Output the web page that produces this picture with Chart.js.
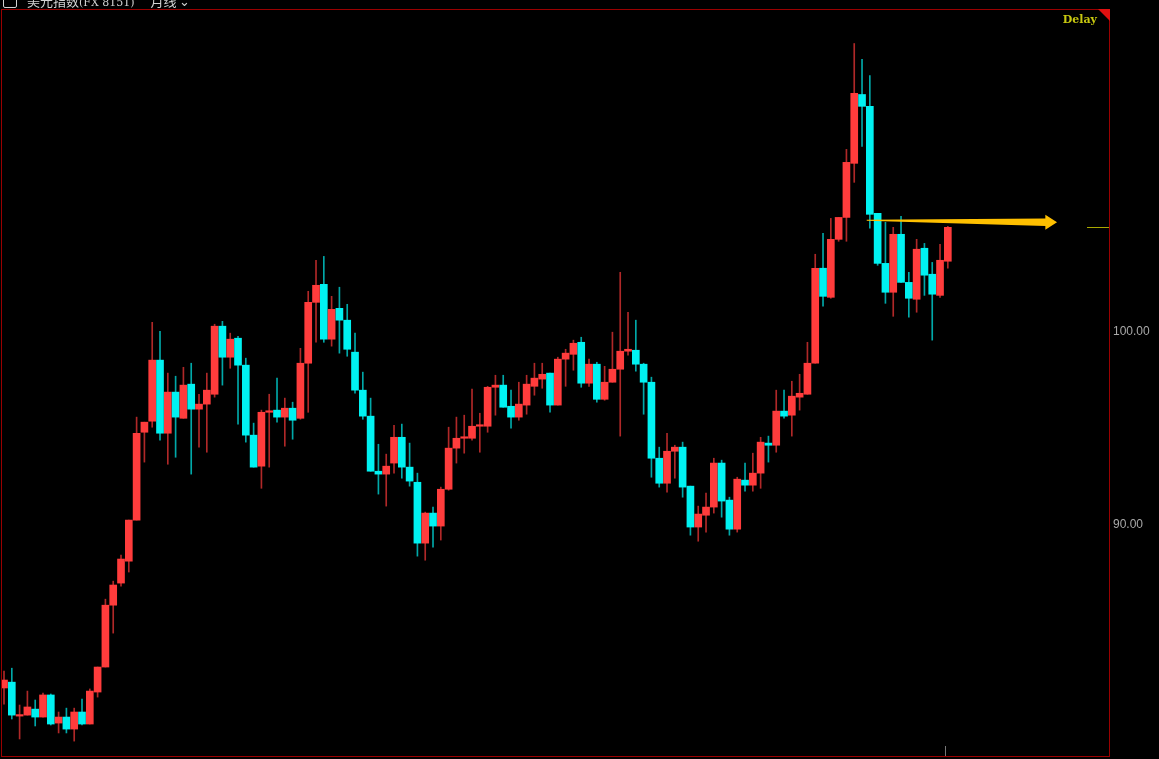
<!DOCTYPE html>
<html>
<head>
<meta charset="utf-8">
<script src="https://cdn.jsdelivr.net/npm/chart.js@4.4.1/dist/chart.umd.min.js"></script>
<style>
  html, body { margin: 0; padding: 0; background: #000; overflow: hidden; }
  #wrap { position: relative; width: 1159px; height: 759px; background: #000; }
  #c { display: block; }
  #hdr { position: absolute; left: 0; top: -9px; height: 18px; white-space: nowrap;
         font: 13px "Noto Sans CJK SC", "Noto Sans", sans-serif; color: #d2d2d2; z-index: 2; }
  #hdr .ic { display: inline-block; width: 12px; height: 12px; border: 1px solid #d2d2d2;
             border-radius: 2px; margin: 0 10px 0 3px; vertical-align: -2px; }
  #hdr .code { font-family: "DejaVu Serif", serif; font-size: 11px; }
  #hdr .per { margin-left: 16px; }
</style>
</head>
<body>
<div id="wrap">
  <div id="hdr"><span class="ic"></span>美元指数<span class="code">(FX 8151)</span><span class="per">月线 ⌄</span></div>
  <canvas id="c" width="1159" height="759"></canvas>
</div>
<script>
// ---- data (monthly candles) ----
const opens = [81.60,81.90,80.15,80.20,80.51,80.10,81.24,79.79,80.10,79.48,80.36,79.74,81.39,82.68,85.87,87.01,88.14,90.26,94.79,95.36,
98.51,94.74,96.86,95.51,97.27,95.98,96.24,96.75,100.26,98.66,99.64,98.25,94.64,93.04,95.82,95.93,95.57,96.03,95.51,98.35,
101.49,102.42,99.59,101.18,100.57,98.92,96.96,95.62,92.78,92.63,93.20,94.53,92.99,92.21,89.07,90.62,89.95,91.85,93.97,94.48,
94.48,95.10,95.10,97.11,97.22,96.13,95.57,96.19,97.16,97.53,97.84,96.19,98.56,98.81,99.43,97.32,98.30,96.49,97.37,98.04,
98.97,99.02,98.30,97.37,93.45,92.16,93.81,94.02,92.01,89.90,90.51,90.93,93.20,91.29,89.79,92.32,92.06,92.68,94.23,94.12,
95.88,95.67,96.60,96.75,98.35,103.25,101.75,104.74,105.87,108.66,112.21,111.60,106.08,103.50,102.01,105.00,102.52,101.65,104.28,102.94,
101.85,103.61];
const highs = [82.47,82.62,80.72,81.44,80.98,81.34,81.29,80.36,80.56,80.56,81.03,81.55,82.68,86.18,87.11,88.45,90.26,95.57,95.31,100.46,
100.00,97.84,97.68,98.14,98.35,96.75,97.84,100.36,100.51,99.90,99.74,98.61,95.26,95.93,96.75,97.58,96.55,96.34,99.12,102.06,
103.66,103.86,101.80,102.27,101.39,99.90,97.89,96.55,94.17,93.66,95.15,95.21,94.23,92.68,90.67,90.93,91.96,95.05,95.57,95.67,
97.01,95.77,97.16,97.73,97.73,96.96,97.37,97.73,98.35,98.35,97.84,98.66,99.07,99.54,99.69,98.56,98.40,98.19,99.95,103.04,
100.98,100.57,98.35,97.63,94.02,94.74,94.12,94.28,92.01,90.98,91.65,93.45,93.35,91.44,92.47,93.20,93.71,94.53,94.59,96.96,
96.96,97.42,97.78,99.43,103.97,105.05,105.82,105.87,109.38,114.84,114.02,113.19,106.08,105.62,105.36,105.93,103.04,104.74,104.53,103.55,
104.48,105.41];
const lows = [80.77,80.00,78.97,80.20,79.64,80.10,79.69,79.28,79.28,78.86,79.69,79.74,81.13,82.68,84.43,86.85,87.58,90.26,93.25,95.05,
94.38,93.14,93.50,95.51,92.63,94.02,93.76,96.60,97.22,98.09,95.21,94.28,92.99,91.90,92.99,95.31,94.07,94.43,95.46,95.82,
99.43,99.43,99.23,98.87,98.71,96.80,95.46,92.78,91.60,90.98,92.68,92.42,92.01,88.40,88.19,88.86,89.23,91.80,93.20,93.71,
94.38,93.76,94.79,95.67,96.08,95.00,95.41,95.72,96.70,97.06,95.82,96.19,97.16,97.99,97.11,97.16,96.34,96.44,97.37,94.59,
98.76,97.94,95.72,92.47,91.96,91.70,92.42,91.44,89.48,89.17,89.64,90.62,90.41,89.48,89.64,91.75,91.75,91.90,93.25,93.76,
95.51,94.59,95.93,96.75,98.35,101.29,101.70,104.64,104.64,107.68,109.53,105.31,103.40,101.44,100.77,102.52,100.72,100.98,101.85,99.54,
101.75,103.25];
const closes = [82.01,80.20,80.20,80.62,80.10,81.24,79.74,80.10,79.48,80.36,79.74,81.44,82.68,85.87,86.91,88.25,90.26,94.74,95.31,98.51,
94.74,96.86,95.57,97.22,95.98,96.24,96.96,100.26,98.66,99.59,98.25,94.64,92.99,95.82,95.88,95.57,96.03,95.41,98.35,101.49,
102.37,99.59,101.13,100.57,99.07,96.96,95.62,92.78,92.63,93.04,94.53,92.99,92.27,89.07,90.62,89.95,91.85,93.97,94.48,94.53,
95.10,95.15,97.11,97.22,96.08,95.57,96.24,97.27,97.58,97.78,96.19,98.56,98.87,99.38,97.32,98.30,96.49,97.37,98.04,98.97,
99.07,98.30,97.37,93.45,92.16,93.81,94.02,91.96,89.90,90.57,90.93,93.20,91.24,89.79,92.37,92.06,92.68,94.28,94.12,95.88,
95.62,96.65,96.80,98.35,103.25,101.80,104.74,105.87,108.71,112.27,111.60,106.03,103.50,102.01,105.00,102.52,101.70,104.23,102.89,101.91,
103.66,105.36];
const yTicks = [90, 100];

const UP = '#ff3c3c', DOWN = '#00f2f2';
const UP_WICK = '#b02828', DOWN_WICK = '#00a8a8';
const idx = closes.map((_, i) => i);
const isUp = i => closes[i] >= opens[i];

const deco = {
  id: 'deco',
  beforeDraw(chart) {
    const ctx = chart.ctx;
    ctx.save();
    ctx.fillStyle = '#000';
    ctx.fillRect(0, 0, chart.width, chart.height);
    ctx.restore();
  },
  afterDraw(chart) {
    const { ctx, chartArea: a, scales: { x, y } } = chart;
    ctx.save();
    // frame (crisp 1px red lines)
    const L = Math.round(a.left), T = Math.round(a.top), R = Math.round(a.right) - 1, B = Math.round(a.bottom) - 1;
    ctx.fillStyle = '#9a0000';
    ctx.fillRect(L, T, R - L + 1, 1);
    ctx.fillRect(L, B, R - L + 1, 1);
    ctx.fillRect(L, T, 1, B - T + 1);
    ctx.fillRect(R, T, 1, B - T + 1);
    // corner triangle
    ctx.fillStyle = '#e01010';
    ctx.beginPath();
    ctx.moveTo(R - 11, T);
    ctx.lineTo(R + 1, T);
    ctx.lineTo(R + 1, T + 12);
    ctx.closePath();
    ctx.fill();
    // Delay
    ctx.fillStyle = '#c8c810';
    ctx.font = 'bold 11px "DejaVu Serif", serif';
    ctx.textAlign = 'right';
    ctx.textBaseline = 'alphabetic';
    ctx.fillText('Delay', R - 12, T + 14);
    // last price mark
    const last = closes.length - 1;
    const py = Math.round(y.getPixelForValue(closes[last]));
    ctx.fillStyle = '#a8a800';
    ctx.fillRect(R - 22, py, 22, 1);
    // arrow
    const x0 = x.getPixelForValue(110.6), y0 = y.getPixelForValue(105.72);
    const x1 = x.getPixelForValue(133.5), y1 = y.getPixelForValue(105.62);
    const xt = x.getPixelForValue(135.0);
    ctx.fillStyle = '#ffc000';
    ctx.beginPath();
    ctx.moveTo(x0, y0 - 0.5);
    ctx.lineTo(x1, y1 - 3.8);
    ctx.lineTo(x1, y1 - 7.5);
    ctx.lineTo(xt, y1);
    ctx.lineTo(x1, y1 + 7.5);
    ctx.lineTo(x1, y1 + 3.8);
    ctx.lineTo(x0, y0 + 0.5);
    ctx.closePath();
    ctx.fill();
    // small cursor tick at bottom
    const tx = Math.round(x.getPixelForValue(120.6));
    ctx.fillStyle = '#777';
    ctx.fillRect(tx, B - 10, 1, 10);
    ctx.restore();
  }
};

new Chart(document.getElementById('c'), {
  type: 'bar',
  data: {
    datasets: [
      {
        label: 'body',
        data: idx.map(i => ({ x: i, y: [opens[i], closes[i]] })),
        backgroundColor: idx.map(i => isUp(i) ? UP : DOWN),
        barThickness: 7,
        minBarLength: 1.5,
        grouped: false,
        order: 1
      },
      {
        label: 'wick',
        data: idx.map(i => ({ x: i, y: [lows[i], highs[i]] })),
        backgroundColor: idx.map(i => isUp(i) ? UP_WICK : DOWN_WICK),
        barThickness: 1,
        grouped: false,
        order: 2
      }
    ]
  },
  options: {
    responsive: false,
    animation: false,
    layout: { padding: { left: 1, top: 9, right: 0, bottom: 2 } },
    plugins: { legend: { display: false }, tooltip: { enabled: false } },
    scales: {
      x: {
        type: 'linear',
        min: -0.385,
        max: 141.79,
        offset: false,
        display: false
      },
      y: {
        position: 'right',
        min: 78.04,
        max: 116.62,
        grid: { display: false, drawTicks: false },
        border: { display: false },
        afterBuildTicks: s => { s.ticks = yTicks.map(v => ({ value: v })); },
        afterFit: s => { s.width = 49; s.paddingTop = 0; s.paddingBottom = 0; },
        ticks: {
          color: '#a8a8a8',
          padding: 3,
          font: { family: '"Liberation Sans", Arial, sans-serif', size: 12 },
          callback: v => v.toFixed(2)
        }
      }
    }
  },
  plugins: [deco]
});
</script>
</body>
</html>
